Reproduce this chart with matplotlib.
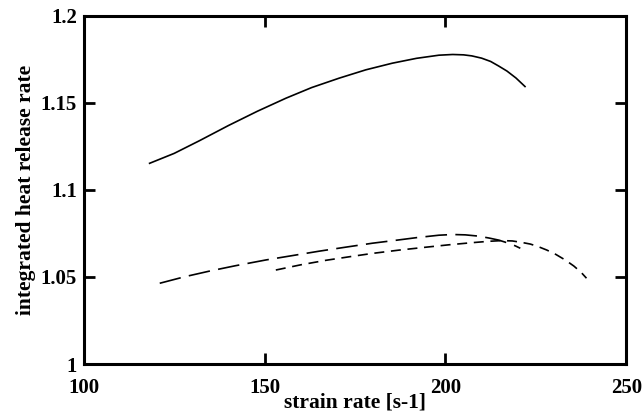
import matplotlib
matplotlib.use("Agg")
import matplotlib.pyplot as plt
import numpy as np

plt.rcParams['font.family'] = ['Liberation Serif', 'DejaVu Serif']
plt.rcParams['font.weight'] = 'bold'

# solid curve
x_solid = [118.2, 125, 132, 140, 148, 155.9, 163, 170.6, 178, 185.3, 192, 198.2,
           202, 205, 207.3, 210, 212.5, 214.7, 217, 219.5, 222]
y_solid = [1.1153, 1.1210, 1.1283, 1.1370, 1.1452, 1.1527, 1.1588, 1.1642, 1.1690,
           1.1728, 1.1756, 1.1774, 1.1778, 1.1776, 1.1770, 1.1757, 1.1738, 1.1712,
           1.1683, 1.1643, 1.1594]

# long dashed curve
x_long = [121, 128, 135, 142, 150.4, 158, 165, 172, 179.8, 186, 192, 198.2, 202,
          205.5, 209, 212, 214.7, 217, 219.3, 220.7]
y_long = [1.0464, 1.0502, 1.0535, 1.0565, 1.0598, 1.0624, 1.0648, 1.0670, 1.0694,
          1.0710, 1.0726, 1.0740, 1.0744, 1.0742, 1.0735, 1.0724, 1.0712, 1.0697,
          1.0679, 1.0665]

# short dashed curve
x_short = [153.1, 160, 167, 174, 180, 187, 195, 201, 207.3, 212, 215.6, 218.5, 221,
           223.5, 225.7, 228, 230.5, 233.1, 235.5, 237.5, 239]
y_short = [1.0540, 1.0570, 1.0596, 1.0618, 1.0636, 1.0654, 1.0672, 1.0685, 1.0697,
           1.0705, 1.0709, 1.0707, 1.0699, 1.0689, 1.0674, 1.0655, 1.0630, 1.0598,
           1.0563, 1.0527, 1.0493]

xticks = [100, 150, 200, 250]
yticks = [1, 1.05, 1.1, 1.15, 1.2]
ytick_labels = ['1', '1.05', '1.1', '1.15', '1.2']

fig = plt.figure(figsize=(6.42, 4.17), dpi=100)
ax = fig.add_axes([0.1305, 0.127, 0.845, 0.835])

ax.plot(x_solid, y_solid, color='black', lw=1.2)
ax.plot(x_long, y_long, color='black', lw=1.2, dashes=(13, 5))
ax.plot(x_short, y_short, color='black', lw=1.2, dashes=(6, 4))

ax.set_xlim(100, 250)
ax.set_ylim(1, 1.2)
ax.set_xticks(xticks)
ax.set_yticks(yticks)
ax.set_yticklabels(ytick_labels)

for s in ax.spines.values():
    s.set_linewidth(2.2)
ax.tick_params(direction='in', length=8, width=2, top=True, right=True,
               labelsize=15, pad=5)
ax.tick_params(axis='x', pad=10)
for lab in ax.get_xticklabels() + ax.get_yticklabels():
    lab.set_fontweight('bold')

ax.set_xlabel('strain rate [s-1]', fontsize=15.5, fontweight='bold', labelpad=-4)
ax.set_ylabel('integrated heat release rate', fontsize=15.5, fontweight='bold', labelpad=3)

fig.savefig('out.png', dpi=100)
